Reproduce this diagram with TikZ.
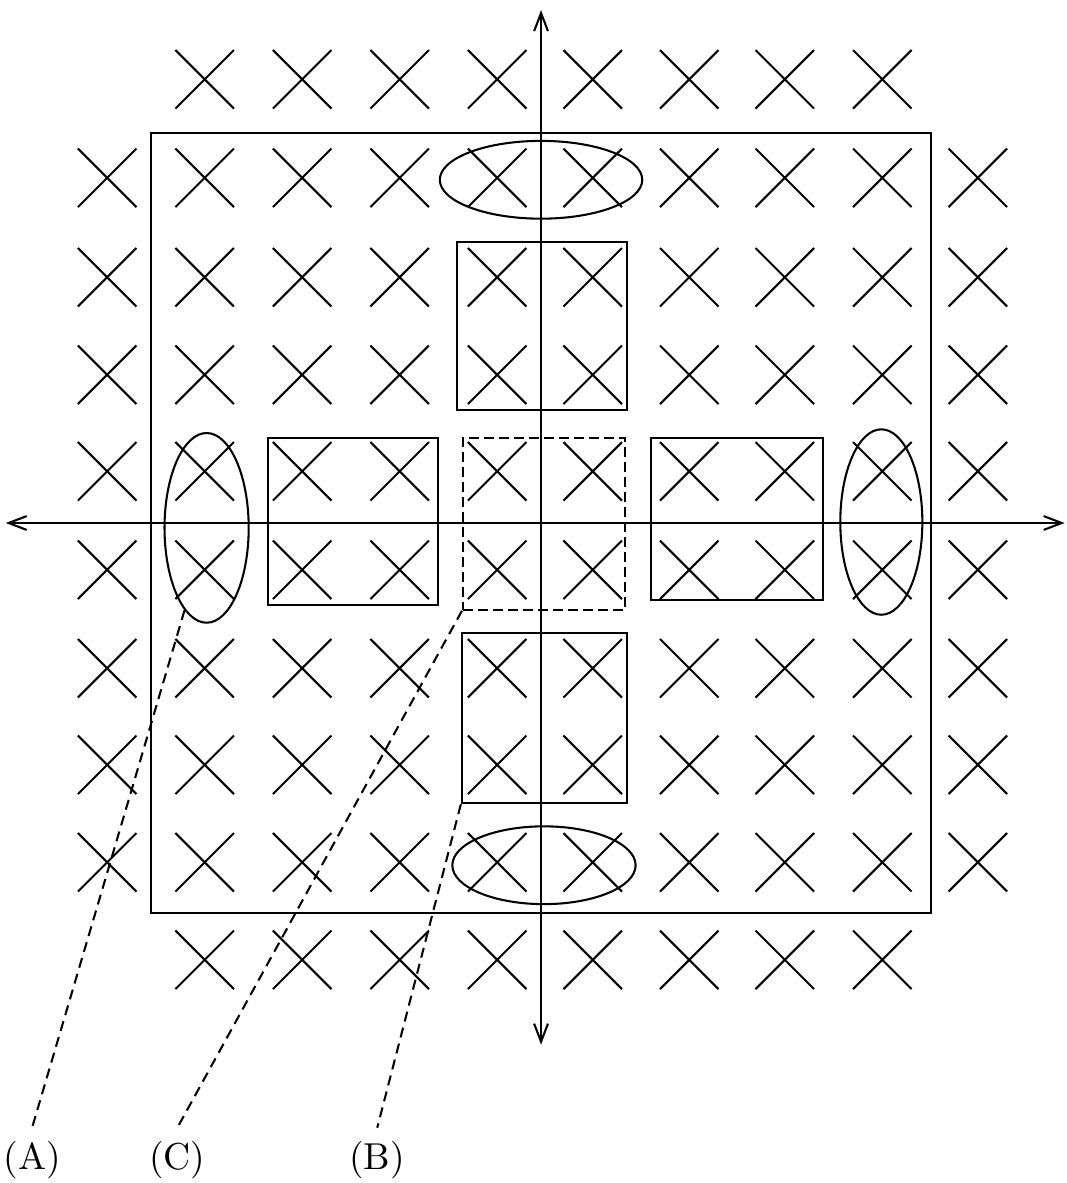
\documentclass[tikz,border=0pt]{standalone}
\usepackage{tikz}
\usetikzlibrary{arrows.meta,positioning,shapes.geometric,shapes.misc}
\tikzset{
  xmark/.style={draw, cross out, minimum size=5.3mm, inner sep=0pt, line width=0.55pt},
  blk/.style={draw, rectangle, inner sep=0pt, line width=0.55pt},
  ovl/.style={draw, ellipse, inner sep=0pt, line width=0.55pt},
  ax/.style={{Straight Barb[length=1.7mm,width=1.3mm]}-{Straight Barb[length=1.7mm,width=1.3mm]}, line width=0.55pt},
  lead/.style={dash pattern=on 2.7pt off 1.7pt, line width=0.55pt},
  tag/.style={font=\normalsize},
}

\begin{document}
\begin{tikzpicture}[x=9.15mm, y=9.15mm]
  \useasboundingbox (-5.549,-6.769) rectangle (5.385,5.364);
  % crosses
  \foreach \yy in {4.55,-4.48}
    \foreach \xx in {-3.45,-2.45,-1.45,-0.45,0.53,1.52,2.5,3.5}
      \node[xmark] at (\xx,\yy) {};
  \foreach \yy in {3.54,2.52,1.52,0.53,-0.48,-1.49,-2.48,-3.48}
    \foreach \xx in {-4.45,-3.45,-2.45,-1.45,-0.45,0.53,1.52,2.5,3.5,4.48}
      \node[xmark] at (\xx,\yy) {};
  % frame
  \node[blk, minimum width=73.2mm, minimum height=73.2mm] (frame) at (0,0) {};
  % boxes
  \node[blk, minimum width=15.9mm, minimum height=15.7mm] (bxN) at (0.01,2.02) {};
  \node[blk, minimum width=15.5mm, minimum height=16.0mm] (bxS) at (0.035,-2.0) {};
  \node[blk, minimum width=15.9mm, minimum height=15.6mm] (bxW) at (-1.93,0.015) {};
  \node[blk, minimum width=16.1mm, minimum height=15.2mm] (bxE) at (2.01,0.04) {};
  \node[blk, dash pattern=on 2.6pt off 1.4pt, minimum width=15.2mm, minimum height=16.1mm] (bxC) at (0.03,-0.01) {};
  % ellipses
  \node[ovl, minimum width=19.0mm, minimum height=7.3mm] (ovN) at (0,3.52) {};
  \node[ovl, minimum width=17.2mm, minimum height=7.3mm] (ovS) at (0.03,-3.51) {};
  \node[ovl, minimum width=7.9mm, minimum height=17.8mm] (ovW) at (-3.43,-0.05) {};
  \node[ovl, minimum width=7.7mm, minimum height=17.4mm] (ovE) at (3.49,0.01) {};
  % axes
  \coordinate (axL) at (-5.49,0);
  \coordinate (axR) at (5.37,0);
  \coordinate (axT) at (0,5.26);
  \coordinate (axB) at (0,-5.35);
  \draw[ax] (axL) -- (axR);
  \draw[ax] (axB) -- (axT);
  % labels
  \node[tag] (tA) at (-5.22,-6.53) {(A)};
  \node[tag] (tC) at (-3.73,-6.53) {(C)};
  \node[tag] (tB) at (-1.68,-6.53) {(B)};
  \draw[lead] (ovW.255) -- (tA.north);
  \draw[lead] (bxC.south west) -- (tC.north);
  \draw[lead] (bxS.south west) -- (tB.north);
\end{tikzpicture}
\end{document}
